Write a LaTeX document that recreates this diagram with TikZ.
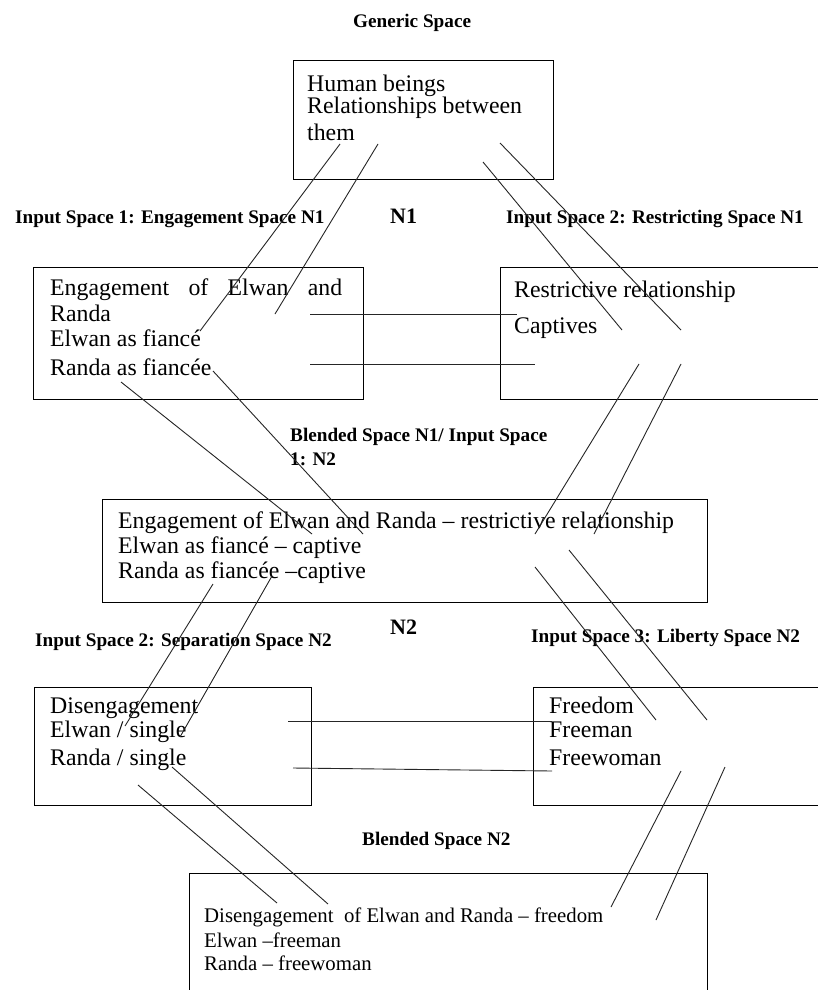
\documentclass[tikz,border=0pt]{standalone}
\usepackage{fontspec}
\setmainfont{Liberation Serif}
\begin{document}
\begin{tikzpicture}[x=1pt,y=-1pt,
  spacebox/.style={draw, line width=1.3pt, inner sep=0pt, anchor=north west},
  link/.style={line width=0.9pt, draw=black!85},
  heading/.style={font=\fontsize{19.2}{23}\selectfont\bfseries, inner sep=0pt, anchor=base west},
  netlabel/.style={font=\fontsize{22}{26}\selectfont\bfseries, inner sep=0pt, anchor=base west},
  body/.style={font=\fontsize{23.8}{28}\selectfont, inner sep=0pt, anchor=base west},
  smallbody/.style={font=\fontsize{20.8}{25}\selectfont, inner sep=0pt, anchor=base west}]
\useasboundingbox (0,0) rectangle (818,990);
\clip (0,0) rectangle (818,990);
\fill[white] (0,0) rectangle (818,990);

% ---- spaces (boxes) ----
\node[spacebox, minimum width=260pt, minimum height=119pt] (G)  at (293,60)  {};
\node[spacebox, minimum width=330pt, minimum height=132pt] (I1) at (33,267)  {};
\node[spacebox, minimum width=340pt, minimum height=132pt] (R1) at (500,267) {};
\node[spacebox, minimum width=605pt, minimum height=103pt] (B1) at (102,499) {};
\node[spacebox, minimum width=277pt, minimum height=118pt] (I2) at (34,687)  {};
\node[spacebox, minimum width=300pt, minimum height=118pt] (I3) at (533,687) {};
\node[spacebox, minimum width=518pt, minimum height=140pt] (B2) at (189,873) {};

% ---- headings ----
\node[heading] (hG)  at (353,28)  {Generic Space};
\node[heading] (hI1) at (15,223)  {Input Space 1: Engagement Space N1};
\node[netlabel] (n1) at (390,223) {N1};
\node[heading] (hR1) at (506,223) {Input Space 2: Restricting Space N1};
\node[heading] (hB1a) at (290,441) {Blended Space N1/ Input Space};
\node[heading] (hB1b) at (290,465) {1: N2};
\node[heading] (hI2) at (35,646)  {Input Space 2: Separation Space N2};
\node[netlabel] (n2) at (390,634) {N2};
\node[heading] (hI3) at (531,642) {Input Space 3: Liberty Space N2};
\node[heading] (hB2) at (362,845) {Blended Space N2};

% ---- generic space ----
\node[body] (g1) at (307,91)  {Human beings};
\node[body] (g2) at (307,113) {Relationships between};
\node[body] (g3) at (307,140) {them};

% ---- engagement space ----
\node[body] (e1) at (50,295) {\makebox[292pt][s]{Engagement of Elwan and}};
\node[body] (e2) at (50,321) {Randa};
\node[body] (e3) at (50,346) {Elwan as fiancé};
\node[body] (e4) at (50,375) {Randa as fiancée};

% ---- restricting space ----
\node[body] (r1) at (514,297) {Restrictive relationship};
\node[body] (r2) at (514,333) {Captives};

% ---- blended space N1 ----
\node[body] (b1) at (118,528) {Engagement of Elwan and Randa – restrictive relationship};
\node[body] (b2) at (118,553) {Elwan as fiancé – captive};
\node[body] (b3) at (118,578) {Randa as fiancée –captive};

% ---- separation space ----
\node[body] (s1) at (50,713) {Disengagement};
\node[body] (s2) at (50,737) {Elwan / single};
\node[body] (s3) at (50,765) {Randa / single};

% ---- liberty space ----
\node[body] (l1) at (549,713) {Freedom};
\node[body] (l2) at (549,737) {Freeman};
\node[body] (l3) at (549,765) {Freewoman};

% ---- blended space N2 ----
\node[smallbody] (f1) at (204,922) {Disengagement~ of Elwan and Randa – freedom};
\node[smallbody] (f2) at (204,947) {Elwan –freeman};
\node[smallbody] (f3) at (204,970) {Randa – freewoman};

% ---- mapping line end points ----
\coordinate (a0) at (340,144); \coordinate (a1) at (200,331);
\coordinate (b0) at (378,144); \coordinate (b1) at (275,314);
\coordinate (c0) at (483,162); \coordinate (c1) at (622,330);
\coordinate (d0) at (500,143); \coordinate (d1) at (681,330);
\coordinate (h10) at (310,314); \coordinate (h11) at (517,314);
\coordinate (h20) at (310,364); \coordinate (h21) at (535,364);
\coordinate (e0) at (121,382); \coordinate (e1) at (312,534);
\coordinate (f0) at (213,371); \coordinate (f1) at (363,534);
\coordinate (g0) at (639,364); \coordinate (g1) at (535,534);
\coordinate (k0) at (681,364); \coordinate (k1) at (594,534);
\coordinate (i0) at (213,584); \coordinate (i1) at (125,726);
\coordinate (j0) at (272,576); \coordinate (j1) at (180,737);
\coordinate (m0) at (535,567); \coordinate (m1) at (656,720);
\coordinate (n0) at (569,550); \coordinate (n1) at (707,720);
\coordinate (h30) at (288,721); \coordinate (h31) at (552,721);
\coordinate (h40) at (293,768); \coordinate (h41) at (552,771);
\coordinate (o0) at (138,785); \coordinate (o1) at (277,903);
\coordinate (p0) at (172,767); \coordinate (p1) at (328,904);
\coordinate (q0) at (681,771); \coordinate (q1) at (611,907);
\coordinate (t0) at (725,767); \coordinate (t1) at (656,920);

% ---- mapping lines ----
\draw[link] (a0) -- (a1);
\draw[link] (b0) -- (b1);
\draw[link] (c0) -- (c1);
\draw[link] (d0) -- (d1);
\draw[link] (h10) -- (h11);
\draw[link] (h20) -- (h21);
\draw[link] (e0) -- (e1);
\draw[link] (f0) -- (f1);
\draw[link] (g0) -- (g1);
\draw[link] (k0) -- (k1);
\draw[link] (i0) -- (i1);
\draw[link] (j0) -- (j1);
\draw[link] (m0) -- (m1);
\draw[link] (n0) -- (n1);
\draw[link] (h30) -- (h31);
\draw[link] (h40) -- (h41);
\draw[link] (o0) -- (o1);
\draw[link] (p0) -- (p1);
\draw[link] (q0) -- (q1);
\draw[link] (t0) -- (t1);
\end{tikzpicture}
\end{document}
